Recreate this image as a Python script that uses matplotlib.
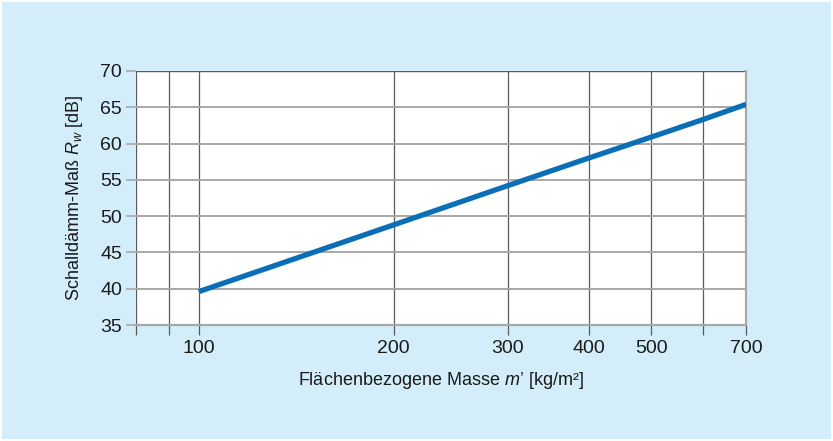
import matplotlib.pyplot as plt
from matplotlib.patches import Rectangle
from matplotlib.ticker import FixedLocator, NullFormatter, NullLocator

# data
masse = [100, 200, 300, 400, 500, 600, 700]
rw = [39.6, 48.8, 54.2, 58.0, 60.9, 63.3, 65.4]

x_ticks = [80, 90, 100, 200, 300, 400, 500, 600, 700]
x_labels = ["", "", "100", "200", "300", "400", "500", "", "700"]
y_ticks = [35, 40, 45, 50, 55, 60, 65, 70]

plt.rcParams['font.family'] = ['Liberation Sans', 'DejaVu Sans']
plt.rcParams['mathtext.fontset'] = 'custom'
plt.rcParams['mathtext.it'] = 'Liberation Sans:italic'
plt.rcParams['mathtext.rm'] = 'Liberation Sans'

fig = plt.figure(figsize=(8.33, 4.41), dpi=100, facecolor='white')
fig.patches.append(Rectangle((2/833, 2/441), 1 - 4/833, 1 - 4/441,
                             transform=fig.transFigure, facecolor='#d3eefa',
                             edgecolor='none', zorder=-10))

ax = fig.add_axes([136/833, 1 - 325/441, 610/833, 254/441])
ax.set_facecolor('white')
ax.set_xscale('log')
ax.set_xlim(80, 700)
ax.set_ylim(35, 70)

ax.xaxis.set_major_locator(FixedLocator(x_ticks))
ax.xaxis.set_minor_locator(NullLocator())
ax.xaxis.set_minor_formatter(NullFormatter())
ax.set_xticklabels(x_labels)
ax.set_yticks(y_ticks)

ax.grid(True, axis='x', color='#5a5a5a', linewidth=0.9)
ax.grid(True, axis='y', color='#a8a8a8', linewidth=1.4)
ax.set_axisbelow(True)

for s in ['left', 'top']:
    ax.spines[s].set_visible(False)
ax.spines['right'].set_color('#a8a8a8')
ax.spines['right'].set_linewidth(1.6)
ax.spines['bottom'].set_color('#a8a8a8')
ax.spines['bottom'].set_linewidth(1.6)
ax.axhline(70, color='#5a5a5a', linewidth=1.0, zorder=1)

ax.tick_params(axis='x', length=7, width=0.9, color='#5a5a5a', pad=4,
               labelsize=14, labelcolor='#1a1a1a')
ax.tick_params(axis='y', length=7, width=1.2, color='#a8a8a8', pad=3,
               labelsize=14, labelcolor='#1a1a1a')

ax.plot(masse, rw, color='#0b6fb8', linewidth=3.8, solid_capstyle='butt', zorder=3)

ax.set_xlabel("Flächenbezogene Masse $m$’ [kg/m²]", fontsize=13,
              color='#1a1a1a', labelpad=9)
ax.set_ylabel("Schalldämm-Maß $R_w$ [dB]", fontsize=13,
              color='#1a1a1a', labelpad=11)

fig.savefig('out.png', dpi=100, facecolor=fig.get_facecolor())
